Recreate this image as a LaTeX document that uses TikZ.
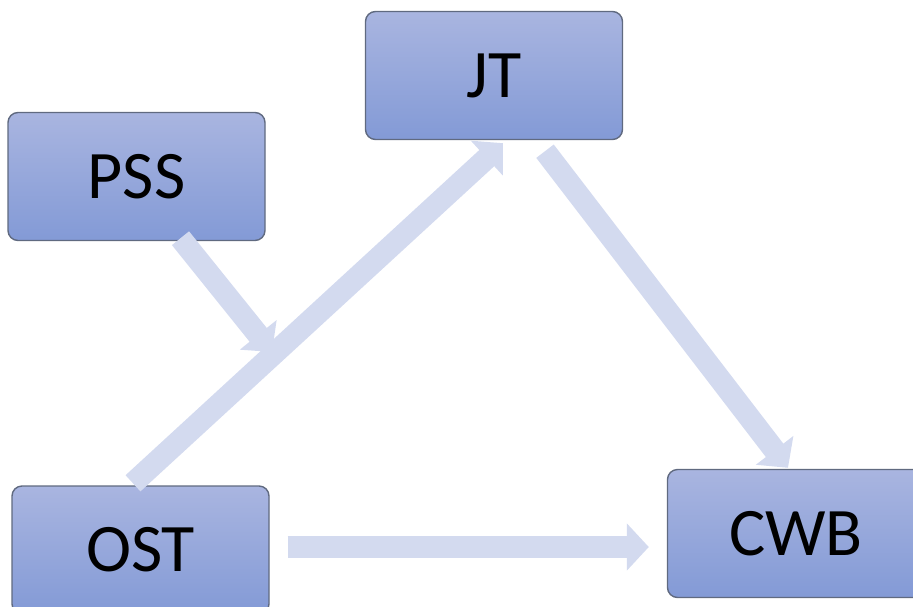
\documentclass[tikz,border=0pt]{standalone}
\usepackage{fontspec}
\setmainfont{Carlito}
\usetikzlibrary{arrows.meta,calc}

\definecolor{boxtop}{RGB}{169,181,224}
\definecolor{boxbot}{RGB}{131,154,214}
\definecolor{boxline}{RGB}{96,106,128}
\definecolor{arrowfill}{RGB}{211,218,239}

\tikzset{
  varbox/.style={draw=boxline, line width=1.4pt, rounded corners=10pt,
    top color=boxtop, bottom color=boxbot, minimum width=257pt,
    minimum height=128pt, inner sep=0pt,
    font=\fontsize{68}{80}\selectfont},
  fatarrow/.style={draw=arrowfill, line width=22pt,
    -{Triangle[length=22pt,width=46pt]}}
}

\begin{document}
\begin{tikzpicture}[x=1pt,y=-1pt]
\useasboundingbox (0,0) rectangle (913,606);
% variables
\node[varbox] (pss) at (136.5,176.5) {PSS};
\node[varbox] (jt) at (494,75.5) {JT};
\node[varbox] (ost) at (140.5,550) {OST};
\node[varbox] (cwb) at (796,533.5) {CWB};
% paths
\coordinate (mid) at (272,352);
\draw[fatarrow] ($(pss.south)+(44,-3)$) -- (mid);
\draw[fatarrow] ($(ost.north)+(-7.5,-2)$) -- ($(jt.south)+(9,3)$);
\draw[fatarrow] ($(jt.south)+(51,11)$) -- ($(cwb.north)+(-8,-1)$);
\draw[fatarrow] ($(ost.east)+(18,-3)$) -- ($(cwb.west)+(-18,13.5)$);
\end{tikzpicture}
\end{document}
